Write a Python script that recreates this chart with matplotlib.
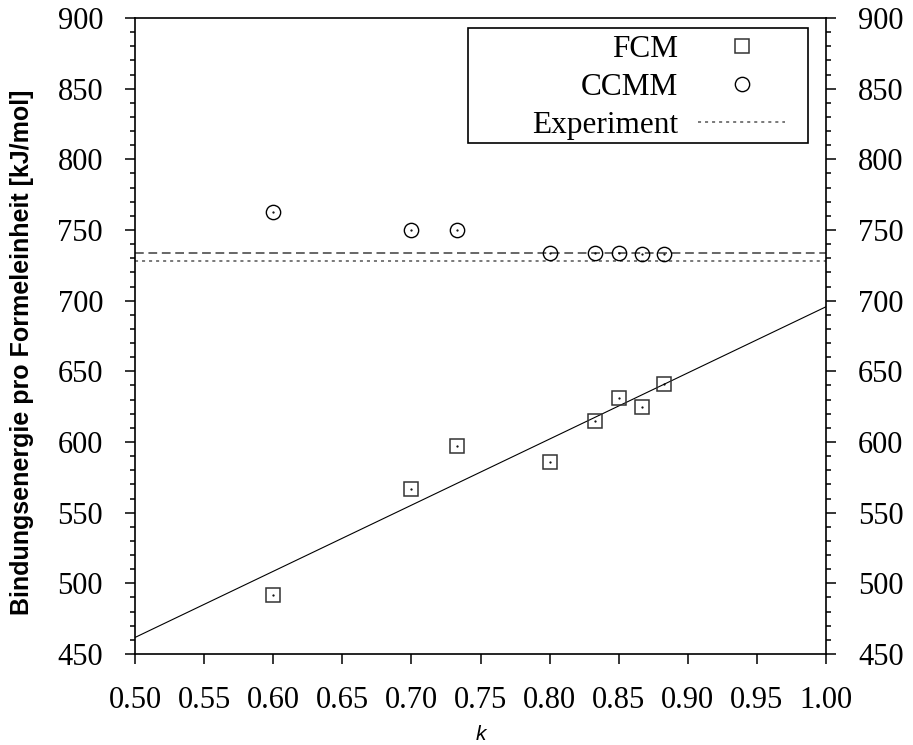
import matplotlib

matplotlib.use("Agg")
import matplotlib.pyplot as plt
import numpy as np
from matplotlib.patches import Rectangle
from matplotlib.ticker import MultipleLocator

# binding energy per formula unit vs k
k_vals = [0.600, 0.700, 0.733, 0.800, 0.833, 0.850, 0.867, 0.883]
fcm = [492, 567, 597, 586, 615, 631, 625, 641]
ccmm = [763, 750, 750, 734, 734, 734, 733, 733]
experiment = 728
ccmm_ref = 734

x_ticks = [0.50, 0.55, 0.60, 0.65, 0.70, 0.75, 0.80, 0.85, 0.90, 0.95, 1.00]
y_ticks = [450, 500, 550, 600, 650, 700, 750, 800, 850, 900]

serif = ["Liberation Serif", "DejaVu Serif"]
sans = ["Liberation Sans", "DejaVu Sans"]
TICK_FS = 22
PX = 72 / 100  # points per pixel at dpi 100

fig = plt.figure(figsize=(9.13, 7.45), dpi=100)
ax = fig.add_axes([135 / 913, 1 - 654 / 745, (826 - 135) / 913, (654 - 18) / 745])

# linear fit through FCM points
slope, icpt = np.polyfit(k_vals, fcm, 1)
xf = np.array([0.5, 1.0])
ax.plot(xf, slope * xf + icpt, color="black", lw=0.8)

ax.axhline(ccmm_ref, color="#666666", lw=1.4, ls=(0, (4.5, 2.4)))
ax.axhline(experiment, color="#555555", lw=1.1, ls=(0, (2.0, 2.6)), label="Experiment")

ax.plot(k_vals, fcm, ls="none", marker="s", ms=10, mfc="none", mec="#333333",
        mew=1.1, label="FCM")
ax.plot(k_vals, ccmm, ls="none", marker="o", ms=10.3, mfc="none", mec="black",
        mew=1.0, label="CCMM")
ax.plot(k_vals, fcm, ls="none", marker=".", ms=1.2, color="black")
ax.plot(k_vals, ccmm, ls="none", marker=".", ms=1.2, color="black")

ax.set_xlim(0.5, 1.0)
ax.set_ylim(450, 900)
ax.set_xticks(x_ticks)
ax.set_xticklabels([f"{v:.2f}" for v in x_ticks], family=serif, fontsize=TICK_FS)
ax.set_yticks(y_ticks)
ax.set_yticklabels([str(v) for v in y_ticks], family=serif, fontsize=TICK_FS)
ax.yaxis.set_minor_locator(MultipleLocator(10))
ax.tick_params(which="both", direction="out", right=True, labelright=True,
               top=False, width=1.1)
ax.tick_params(which="major", length=10 * PX, pad=22 * PX)
ax.tick_params(which="minor", length=5 * PX)
for s in ax.spines.values():
    s.set_linewidth(1.2)

ax.set_xlabel("k", fontsize=15, style="italic", family=sans, labelpad=7)
ax.set_ylabel("Bindungsenergie pro Formeleinheit [kJ/mol]", fontsize=18,
              weight="bold", family=sans, labelpad=17, y=0.474)

# legend box (gnuplot style: wide left margin, labels right-aligned)
ax.add_patch(Rectangle((0.482, 0.8035), 0.492, 0.1805, transform=ax.transAxes,
                       facecolor="white", edgecolor="black", lw=1.2, zorder=4,
                       clip_on=False))
handles, labels = ax.get_legend_handles_labels()
order = [labels.index(n) for n in ["FCM", "CCMM", "Experiment"]]
leg = ax.legend([handles[i] for i in order], [labels[i] for i in order],
                loc="upper right", bbox_to_anchor=(0.9407, 0.974), markerfirst=False,
                prop={"family": serif, "size": 22.5}, frameon=False,
                handlelength=2.78, borderpad=0, labelspacing=0.3,
                handletextpad=0.64, borderaxespad=0)
leg.set_zorder(5)

fig.savefig("out.png", dpi=100)
